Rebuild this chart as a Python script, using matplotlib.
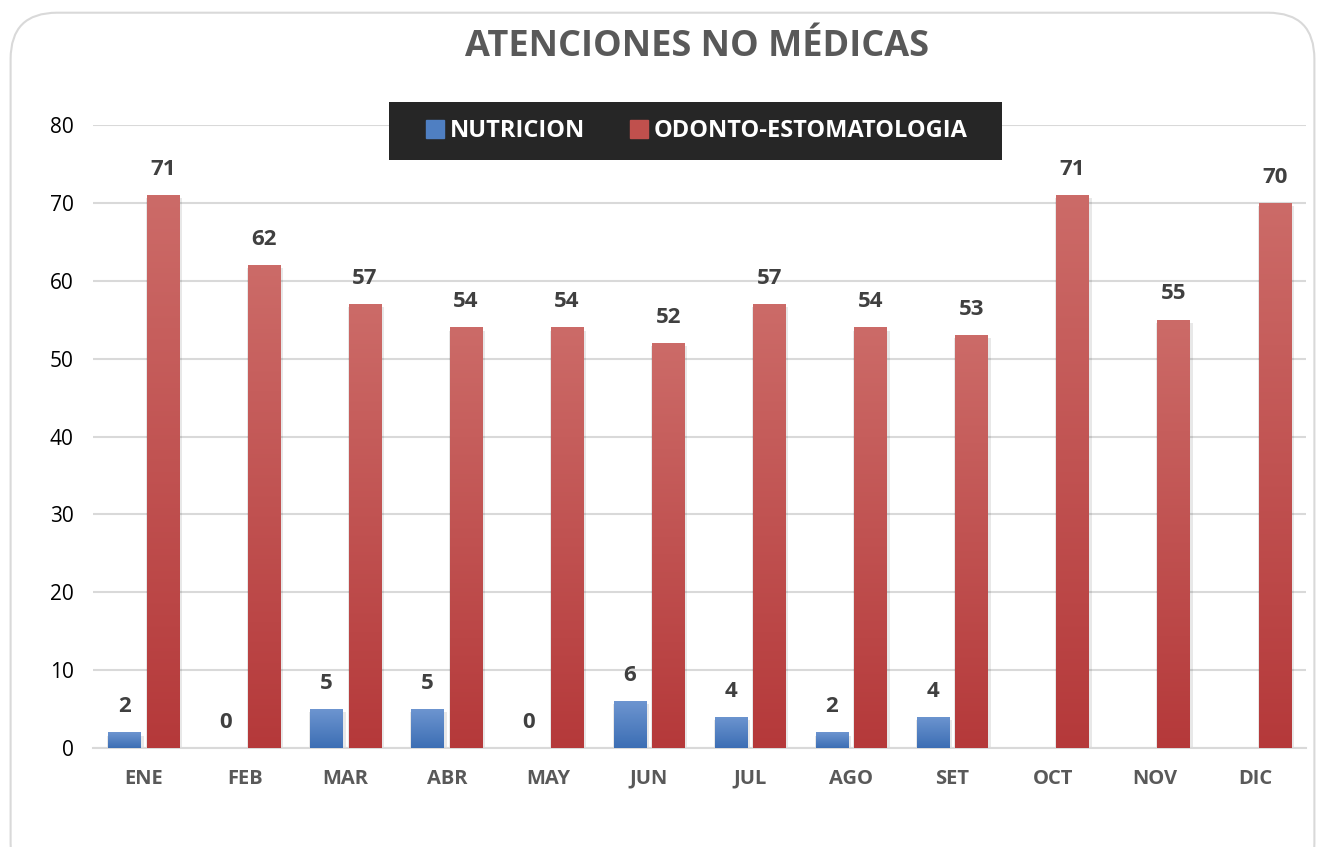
import numpy as np
import matplotlib.pyplot as plt
import matplotlib
from matplotlib.patches import FancyBboxPatch, Rectangle
from matplotlib.colors import LinearSegmentedColormap

matplotlib.rcParams['font.family'] = ['Open Sans', 'DejaVu Sans']

# ---- datos ----
meses = ["ENE", "FEB", "MAR", "ABR", "MAY", "JUN", "JUL", "AGO", "SET", "OCT", "NOV", "DIC"]
nutricion = [2, 0, 5, 5, 0, 6, 4, 2, 4, np.nan, np.nan, np.nan]
odonto = [71, 62, 57, 54, 54, 52, 57, 54, 53, 71, 55, 70]

titulo = "ATENCIONES NO MÉDICAS"
serie1 = "NUTRICION"
serie2 = "ODONTO-ESTOMATOLOGIA"

fig = plt.figure(figsize=(13.25, 8.47), dpi=100)

# borde redondeado del gráfico
borde = FancyBboxPatch((0.008, -0.05), 0.984, 1.035,
                       boxstyle="round,pad=0,rounding_size=0.035",
                       transform=fig.transFigure, fill=False,
                       edgecolor="#d9d9d9", linewidth=1.5,
                       mutation_aspect=1325 / 847)
fig.patches.append(borde)

ax = fig.add_axes([0.0702, 0.1169, 0.9155, 0.7355])

x = np.arange(len(meses))
ancho = 0.32
desp = 0.19

cmap_azul = LinearSegmentedColormap.from_list("az", ["#3c6eb4", "#6d95d0"])
cmap_rojo = LinearSegmentedColormap.from_list("ro", ["#b5393a", "#cc6b68"])

def barras_gradiente(xs, vals, cmap, color_base):
    barras = ax.bar(xs, np.nan_to_num(vals), width=ancho, color=color_base, zorder=3)
    grad = np.linspace(0, 1, 256).reshape(-1, 1)
    for b, v in zip(barras, vals):
        if not np.isfinite(v) or v <= 0:
            continue
        x0, w, h = b.get_x(), b.get_width(), b.get_height()
        # sombra suave
        ax.bar(x0 + w / 2 + 0.01, h, width=w + 0.04, bottom=-0.4,
               color="#000000", alpha=0.09, zorder=2)
        im = ax.imshow(grad, cmap=cmap, aspect="auto", origin="lower",
                       extent=[x0, x0 + w, 0, h], zorder=4)
        im.set_clip_path(b)
    return barras

b1 = barras_gradiente(x - desp, nutricion, cmap_azul, "#4f7fc2")
b2 = barras_gradiente(x + desp, odonto, cmap_rojo, "#c0504d")

# etiquetas de datos
for xi, v in zip(x - desp, nutricion):
    if np.isfinite(v):
        ax.annotate(f"{int(v)}", (xi, v), xytext=(0, 11), textcoords="offset points",
                    ha="center", va="bottom", fontsize=16, fontweight="bold",
                    color="#404040")
for xi, v in zip(x + desp, odonto):
    ax.annotate(f"{int(v)}", (xi, v), xytext=(0, 11), textcoords="offset points",
                ha="center", va="bottom", fontsize=16, fontweight="bold",
                color="#404040")

ax.set_xlim(-0.5, len(meses) - 0.5)
ax.set_ylim(0, 80)
ax.set_yticks(range(0, 81, 10))
ax.set_xticks(x)
ax.set_xticklabels(meses, fontsize=14.5, fontweight="bold", color="#595959")
ax.tick_params(axis="y", labelsize=15, labelcolor="#000000", length=0, pad=14)
ax.tick_params(axis="x", length=0, pad=15)
ax.grid(axis="y", color="#d9d9d9", linewidth=1.5, zorder=0)
ax.set_axisbelow(True)
for lado in ["top", "right", "left"]:
    ax.spines[lado].set_visible(False)
ax.spines["bottom"].set_color("#d9d9d9")
ax.spines["bottom"].set_linewidth(1.5)

fig.text(0.526, 0.944, titulo, ha="center", va="center", fontsize=26,
         fontweight="bold", color="#595959")

# caja oscura de la leyenda
fig.patches.append(Rectangle((389 / 1325, 1 - 160 / 847), 613 / 1325, 58 / 847,
                             transform=fig.transFigure, facecolor="#262626",
                             edgecolor="none", zorder=5))
leg = fig.legend([b1, b2], [serie1, serie2], loc="center",
                 bbox_to_anchor=(0.526, 0.845), ncol=2, frameon=False,
                 handlelength=0.75, handleheight=0.75,
                 handletextpad=0.25, columnspacing=1.9,
                 prop={"weight": "bold", "size": 17})
leg.set_zorder(6)
for t in leg.get_texts():
    t.set_color("white")
leg.legend_handles[0].set_color("#4f7fc2")
leg.legend_handles[1].set_color("#c0504d")

fig.savefig("out.png", dpi=100)
